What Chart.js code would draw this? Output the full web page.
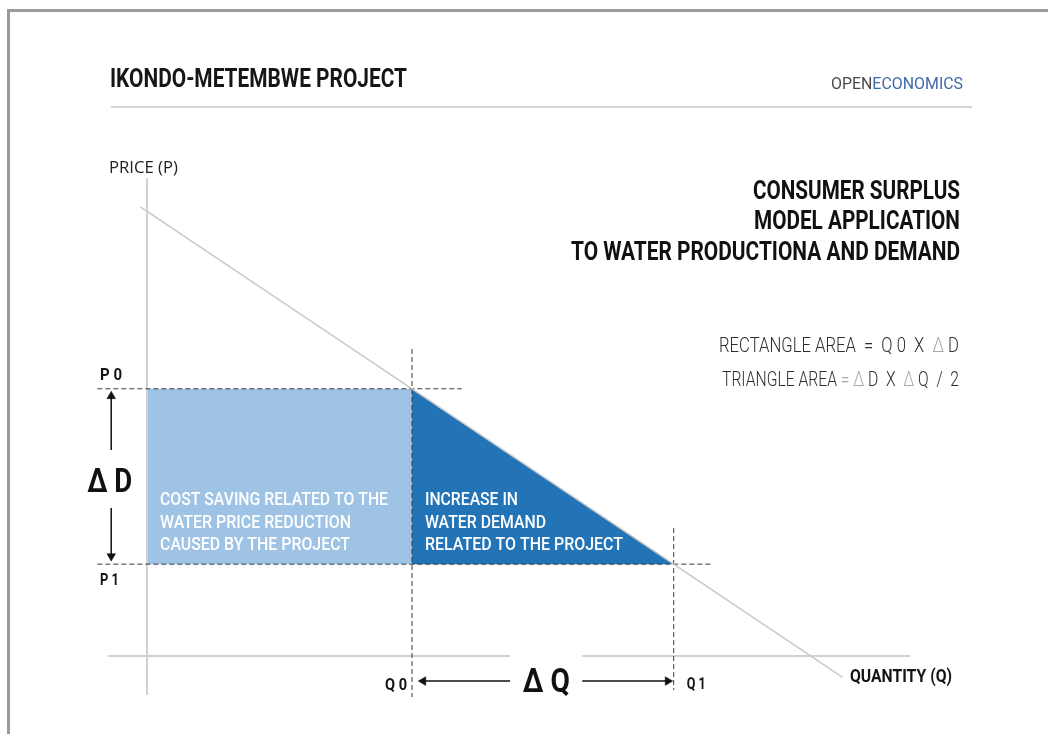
<!DOCTYPE html>
<html lang="en">
<head>
<meta charset="UTF-8">
<title>Ikondo-Metembwe Project | Consumer surplus</title>
<script src="https://cdn.jsdelivr.net/npm/chart.js"></script>
<style>
  html, body { margin: 0; padding: 0; background: #fff; }
  canvas { display: block; }
</style>
</head>
<body>
<canvas id="surplus" width="1048" height="734"></canvas>
<script>
// values (quantity on x, price on y)
const Q0 = 4, Q1 = 7.95;
const P0 = 8, P1 = 2.75;
const demandQ = [-0.1, 10.5];
const demandP = [13.45, -0.64];
const axisQ = [-0.59, 11.52];
const axisP = [-1.17, 14.31];
const gapQ = [5.48, 6.57];           // Q axis is broken under the ΔQ label
const dashP0 = [-0.75, 4.75];         // dashed guide at P0 (Q range)
const dashP1 = [-0.75, 8.54];         // dashed guide at P1 (Q range)
const dashQ0 = [9.19, -1.23];         // dashed guide at Q0 (P range)
const dashQ1 = [3.83, -1.02];         // dashed guide at Q1 (P range)
const arrowD = { q: -0.54, up: [6.17, 7.78], down: [4.43, 2.99] };
const arrowQ = { p: -0.75, left: [5.48, 4.17], right: [6.57, 7.86] };

const header = 'IKONDO-METEMBWE PROJECT';
const titleLines = ['CONSUMER SURPLUS', 'MODEL APPLICATION', 'TO WATER PRODUCTIONA AND DEMAND'];
const rectText = ['COST SAVING RELATED TO THE', 'WATER PRICE REDUCTION', 'CAUSED BY THE PROJECT'];
const triText = ['INCREASE IN', 'WATER DEMAND', 'RELATED TO THE PROJECT'];

const LIGHT_BLUE = '#9fc3e4';
const DARK_BLUE = '#2373b7';
const DASH = '#3a3a3a';

function pts(xs, ys) { return xs.map((x, i) => ({ x: x, y: ys[i] })); }

function guide(data) {
  return { data: data, borderColor: DASH, borderWidth: 1, borderDash: [5, 3], pointRadius: 0, order: 5 };
}
function arrow(data, rot) {
  return {
    data: data, borderColor: '#111', borderWidth: 1.5, order: 1,
    pointStyle: 'triangle', pointRadius: [0, 5], pointRotation: rot,
    pointBackgroundColor: '#111', pointBorderColor: '#111', pointBorderWidth: 0.5
  };
}

const datasets = [
  // cost saving rectangle
  { data: pts([0, Q0], [P0, P0]), fill: { value: P1 }, backgroundColor: LIGHT_BLUE, borderWidth: 0, pointRadius: 0, order: 10 },
  // demand increase triangle
  { data: pts([Q0, Q1], [P0, P1]), fill: { value: P1 }, backgroundColor: DARK_BLUE, borderWidth: 0, pointRadius: 0, order: 10 },
  // axes
  { data: pts([0, 0], axisP), borderColor: '#d2d2d2', borderWidth: 2, pointRadius: 0, order: 8 },
  { data: [{ x: axisQ[0], y: 0 }, { x: gapQ[0], y: 0 }, { x: (gapQ[0] + gapQ[1]) / 2, y: null }, { x: gapQ[1], y: 0 }, { x: axisQ[1], y: 0 }],
    borderColor: '#d2d2d2', borderWidth: 2, pointRadius: 0, spanGaps: false, order: 8 },
  // demand curve
  { data: pts(demandQ, demandP), borderColor: '#c9c9c9', borderWidth: 1.5, pointRadius: 0, order: 3 },
  // dashed guides
  guide(pts(dashP0, [P0, P0])),
  guide(pts(dashP1, [P1, P1])),
  guide(pts([Q0, Q0], dashQ0)),
  guide(pts([Q1, Q1], dashQ1)),
  // arrows
  arrow(pts([arrowD.q, arrowD.q], arrowD.up), 0),
  arrow(pts([arrowD.q, arrowD.q], arrowD.down), 180),
  arrow(pts(arrowQ.left, [arrowQ.p, arrowQ.p]), 270),
  arrow(pts(arrowQ.right, [arrowQ.p, arrowQ.p]), 90)
];
datasets.forEach(d => { d.clip = false; d.tension = 0; });

// draws text squeezed/stretched to a measured width
function fit(ctx, parts, x, y, w, font, align) {
  ctx.font = font;
  const full = parts.map(p => p[0]).join('');
  const s = w / ctx.measureText(full).width;
  const left = align === 'right' ? x - w : (align === 'center' ? x - w / 2 : x);
  ctx.save();
  ctx.textAlign = 'left';
  ctx.textBaseline = 'alphabetic';
  ctx.translate(left, y);
  ctx.scale(s, 1);
  let off = 0;
  parts.forEach(([t, col]) => {
    ctx.fillStyle = col;
    ctx.fillText(t, off, 0);
    off += ctx.measureText(t).width;
  });
  ctx.restore();
}

const BOLD = 'bold %spx Roboto';
const f = (tpl, size) => tpl.replace('%s', size);

const decorations = {
  id: 'decorations',
  beforeDraw(chart) {
    const ctx = chart.ctx;
    ctx.save();
    ctx.fillStyle = '#fff';
    ctx.fillRect(0, 0, chart.width, chart.height);
    // slide frame
    ctx.fillStyle = '#9a9a9a';
    ctx.fillRect(7, 9, chart.width - 7, 3);
    ctx.fillRect(7, 9, 3, chart.height - 9);
    // header rule
    ctx.fillStyle = '#d4d4d4';
    ctx.fillRect(111, 106, 861, 2);
    ctx.restore();

    fit(ctx, [[header, '#161616']], 110, 87, 297, f(BOLD, 25));
    fit(ctx, [['OPEN', '#4a4a4a'], ['ECONOMICS', '#4068ad']], 831, 89, 132, '17px Roboto');
    const tw = [207, 206, 389];
    const tb = [199, 229, 260];
    titleLines.forEach((t, i) => fit(ctx, [[t, '#111']], 960, tb[i], tw[i], f(BOLD, 25), 'right'));

    const dk = '#2e2e2e', lt = '#a8a8a8';
    fit(ctx, [['RECTANGLE AREA  =  Q 0  X  ', dk], ['\u0394', lt], [' D', dk]], 959, 352, 240, '300 20px Roboto', 'right');
    fit(ctx, [['TRIANGLE AREA ', dk], ['= \u0394', lt], [' D  X  ', dk], ['\u0394', lt], [' Q  /  2', dk]], 959, 386, 237, '300 20px Roboto', 'right');
  },
  afterDatasetsDraw(chart) {
    const ctx = chart.ctx;
    const x = chart.scales.x, y = chart.scales.y;
    const xq0 = x.getPixelForValue(Q0), xq1 = x.getPixelForValue(Q1);
    const yp0 = y.getPixelForValue(P0), yp1 = y.getPixelForValue(P1);
    const x0 = x.getPixelForValue(0), y0 = y.getPixelForValue(0);

    fit(ctx, [['PRICE (P)', '#222']], 109, 173, 69, "17px 'Open Sans'");
    fit(ctx, [['QUANTITY (Q)', '#141414']], 850, y0 + 26, 102, f(BOLD, 18));

    fit(ctx, [['P 0', '#141414']], 100, yp0 - 9, 22, f(BOLD, 17));
    fit(ctx, [['P 1', '#141414']], 100, yp1 + 21, 19, f(BOLD, 17));
    fit(ctx, [['Q 0', '#141414']], xq0 - 5, y0 + 34, 22, f(BOLD, 17), 'right');
    fit(ctx, [['Q 1', '#141414']], xq1 + 13, y0 + 33, 19, f(BOLD, 17));

    const xd = x.getPixelForValue(arrowD.q);
    fit(ctx, [['\u0394 D', '#111']], xd - 1.5, (yp0 + yp1) / 2 + 16, 45, f(BOLD, 34), 'center');
    fit(ctx, [['\u0394 Q', '#111']], (xq0 + xq1) / 2 + 3.5, y0 + 36, 47, f(BOLD, 34), 'center');

    const rw = [228, 191, 190], tw = [93, 121, 198];
    [-59, -36.5, -14].forEach((dy, i) => {
      fit(ctx, [[rectText[i], '#fff']], x0 + 13, yp1 + dy, rw[i], f('500 %spx Roboto', 18.5));
      fit(ctx, [[triText[i], '#fff']], xq0 + 13, yp1 + dy, tw[i], f('500 %spx Roboto', 18.5));
    });
  }
};

new Chart(document.getElementById('surplus'), {
  type: 'line',
  data: { datasets: datasets },
  options: {
    responsive: false,
    animation: false,
    events: [],
    // plot area covers the arrows below/left of the axes so their heads are drawn
    layout: { padding: { left: 14.5, right: 39.75, top: 155, bottom: 11.2 } },
    scales: {
      x: { type: 'linear', min: -2, max: 13, display: false },
      y: { type: 'linear', min: -2, max: 15, display: false }
    },
    plugins: { legend: { display: false }, tooltip: { enabled: false } }
  },
  plugins: [decorations]
});
</script>
</body>
</html>
